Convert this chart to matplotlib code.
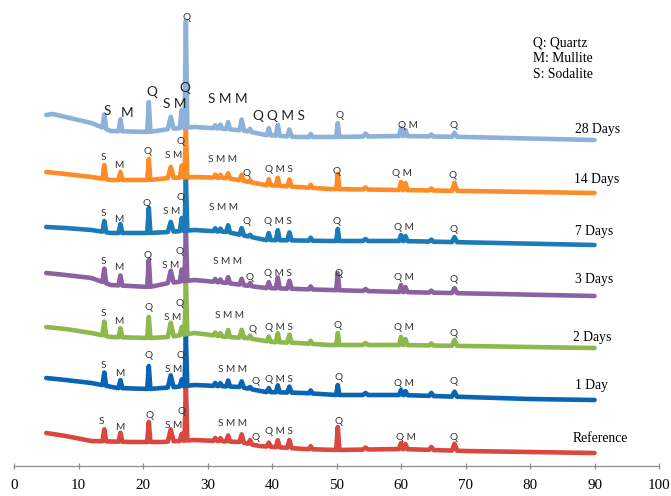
import matplotlib.pyplot as plt
import numpy as np

# XRD patterns, stacked with a vertical offset (intensity in arbitrary units)
samples = ['Reference', '1 Day', '2 Days', '3 Days', '7 Days', '14 Days', '28 Days']
colors = ['#d9473f', '#0a64b4', '#8cb84c', '#8b61a2', '#1b7bb6', '#fd8c27', '#8cb2da']

# 2-theta of the reflections (Q, M, S and small bumps)
peak_pos = [14.0, 16.5, 20.9, 24.3, 26.0, 26.65, 31.2, 32.0, 33.2, 35.3, 36.6,
            39.5, 40.9, 42.7, 46.0, 50.2, 54.5, 60.0, 60.7, 64.7, 68.3]
peak_hw = [0.3, 0.3, 0.25, 0.45, 0.3, 0.22, 0.3, 0.3, 0.3, 0.35, 0.3,
           0.3, 0.3, 0.35, 0.3, 0.25, 0.4, 0.3, 0.3, 0.35, 0.4]

# peak heights above background
heights = {
    'Reference': [12, 9, 20, 12, 7, 57, 3, 3, 6, 8, 4, 4, 7, 8, 3, 23, 2, 6, 5, 3, 7],
    '1 Day':     [13, 8, 23, 12, 7, 50, 3, 3, 6, 6, 2, 4, 7, 6, 3, 10, 2, 5, 4, 3, 5],
    '2 Days':    [14, 9, 21, 14, 8, 56, 3, 3, 7, 8, 3, 5, 9, 8, 3, 12, 2, 8, 6, 2, 6],
    '3 Days':    [14, 10, 27, 12, 12, 52, 3, 3, 6, 6, 3, 6, 11, 8, 3, 17, 2, 7, 5, 2, 5],
    '7 Days':    [11, 9, 25, 10, 13, 53, 3, 3, 7, 7, 2, 7, 10, 8, 3, 12, 2, 6, 5, 2, 5],
    '14 Days':   [14, 8, 21, 11, 12, 47, 3, 3, 5, 6, 2, 6, 8, 7, 3, 15, 2, 8, 7, 2, 8],
    '28 Days':   [14, 12, 30, 12, 18, 107, 3, 4, 7, 11, 3, 7, 11, 7, 3, 14, 3, 8, 6, 2, 4],
}

# background (2-theta, offset intensity)
bg_x = {
    'Reference': [5, 8, 12, 18, 23, 28, 35, 38, 45, 50, 60, 70, 80, 90],
    '1 Day':     [5, 8, 12, 16, 21, 25, 28, 35, 39, 45, 50, 60, 70, 80, 90],
    '2 Days':    [5, 8, 12, 15, 21, 24, 28, 33, 36, 40, 44, 49, 60, 70, 90],
    '3 Days':    [5, 8, 12, 15, 21, 24, 28, 33, 39, 49, 60, 90],
    '7 Days':    [5, 8, 12, 15, 21, 24, 28, 33, 39, 49, 60, 90],
    '14 Days':   [5, 8, 12, 15, 21, 24, 28, 33, 39, 44, 49, 60, 70, 90],
    '28 Days':   [5, 6, 12, 15, 21, 24, 28, 33, 36, 39, 44, 50, 60, 70, 90],
}
bg_y = {
    'Reference': [33, 30, 25, 24, 24, 26, 24, 20, 17, 16, 17, 15, 14, 13],
    '1 Day':     [88, 86, 83, 78, 77, 79, 81, 79, 74, 73, 71, 71, 69, 67, 66],
    '2 Days':    [139, 137, 133, 129, 128, 129, 133, 129, 128, 124, 123, 121, 121, 120, 118],
    '3 Days':    [193, 191, 188, 181, 179, 183, 186, 183, 178, 176, 174, 170],
    '7 Days':    [239, 238, 236, 233, 233, 234, 236, 234, 226, 225, 225, 221],
    '14 Days':   [294, 292, 289, 286, 286, 288, 289, 288, 281, 279, 277, 276, 275, 273],
    '28 Days':   [351, 352, 343, 335, 334, 337, 339, 337, 335, 331, 329, 329, 330, 329, 326],
}

# phase letters: (text, 2-theta, y)
marks = {
    'Reference': [('S', 13.55, 44), ('M', 16.4, 38), ('Q', 21.0, 50), ('S M', 24.8, 40),
                  ('Q', 25.95, 54), ('S M M', 33.9, 43), ('Q', 37.5, 29), ('Q M S', 41.0, 34),
                  ('Q', 50.3, 44), ('Q M', 60.7, 29), ('Q', 68.2, 29)],
    '1 Day':     [('S', 13.8, 100), ('M', 16.4, 93), ('Q', 20.9, 111), ('S M', 24.8, 96),
                  ('Q', 25.85, 110), ('S M M', 33.9, 97), ('Q', 37.5, 84), ('Q M S', 41.0, 87),
                  ('Q', 50.3, 89), ('Q M', 60.4, 83), ('Q', 68.2, 84)],
    '2 Days':    [('S', 13.9, 152), ('M', 16.2, 145), ('Q', 20.8, 158), ('S M', 24.55, 148),
                  ('Q', 25.7, 163), ('S M M', 33.4, 151), ('Q', 37.0, 137), ('Q M S', 41.0, 139),
                  ('Q', 50.2, 141), ('Q M', 60.5, 139), ('Q', 68.2, 132)],
    '3 Days':    [('S', 13.9, 204), ('M', 16.2, 198), ('Q', 20.7, 211), ('S M', 24.3, 200),
                  ('Q', 25.6, 215), ('S M M', 33.1, 204), ('Q', 36.5, 189), ('Q M S', 40.9, 193),
                  ('Q', 50.3, 193), ('Q M', 60.4, 189), ('Q', 68.2, 187)],
    '7 Days':    [('S', 13.8, 252), ('M', 16.2, 247), ('Q', 20.6, 263), ('S M', 24.4, 255),
                  ('Q', 25.85, 269), ('S M M', 32.5, 258), ('Q', 36.1, 244), ('Q M S', 40.9, 244),
                  ('Q', 50.0, 245), ('Q M', 60.5, 238), ('Q', 68.2, 237)],
    '14 Days':   [('S', 13.9, 308), ('M', 16.2, 301), ('Q', 20.75, 314), ('S M', 24.7, 310),
                  ('Q', 25.75, 324), ('S M M', 32.35, 307), ('Q', 36.0, 292), ('Q M S', 41.0, 297),
                  ('Q', 50.0, 295), ('Q M', 60.2, 292), ('Q', 68.0, 291)],
}
marks_28_big = [('S', 14.5, 355), ('M', 17.55, 353), ('Q', 21.3, 374), ('S M', 24.95, 362),
                ('Q', 26.45, 378), ('S M M', 33.1, 367), ('Q', 37.8, 350), ('Q M S', 42.2, 350)]
marks_28_small = [('Q', 26.7, 448), ('Q', 50.4, 350), ('Q M', 61.0, 340), ('Q', 68.2, 341)]

# sample names at the right end of each pattern
name_x = [86.6, 86.9, 86.6, 86.9, 87.0, 86.8, 87.0]
name_y = [27, 80, 129, 186, 234, 287, 336]

key_lines = ['Q: Quartz', 'M: Mullite', 'S: Sodalite']

serif = ['Liberation Serif', 'DejaVu Serif']
sans = ['Lato', 'DejaVu Sans']

fig = plt.figure(figsize=(6.71, 4.96), dpi=100)
ax = fig.add_axes([14 / 671, 30 / 496, 645 / 671, 466 / 496])

for i, name in enumerate(samples):
    kx = np.array(bg_x[name], float)
    ky = np.array(bg_y[name], float)
    pts = []
    for p, w, h in zip(peak_pos, peak_hw, heights[name]):
        pts.append((p - w, np.interp(p - w, kx, ky)))
        pts.append((p, np.interp(p, kx, ky) + h))
        pts.append((p + w, np.interp(p + w, kx, ky)))
    for x, y in zip(kx, ky):
        if all(abs(x - p) > w for p, w in zip(peak_pos, peak_hw)):
            pts.append((x, y))
    pts.sort()
    xs, ys = zip(*pts)
    ax.plot(xs, ys, color=colors[i], lw=3.3, solid_joinstyle='round',
            solid_capstyle='round', zorder=2 + i)
    ax.text(name_x[i], name_y[i], name, fontsize=9.8, family=serif,
            ha='left', va='center', zorder=20)

for name, lst in marks.items():
    for t, x, y in lst:
        ax.text(x, y, t, fontsize=7.2, family=sans, color='#333333',
                ha='center', va='center', zorder=20)
for t, x, y in marks_28_big:
    ax.text(x, y, t, fontsize=9.8, family=sans, color='#222222',
            ha='center', va='center', zorder=20)
for t, x, y in marks_28_small:
    ax.text(x, y, t, fontsize=7.2, family=sans, color='#333333',
            ha='center', va='center', zorder=20)

for k, line in enumerate(key_lines):
    ax.text(80.5, 423 - 16 * k, line, fontsize=9.8, family=serif,
            ha='left', va='center')

ax.set_xlim(0, 100)
ax.set_ylim(0, 466)
ax.set_xticks(np.arange(0, 101, 10))
ax.set_yticks([])
for s in ['top', 'left', 'right']:
    ax.spines[s].set_visible(False)
ax.spines['bottom'].set_color('#8c8c8c')
ax.spines['bottom'].set_linewidth(0.9)
ax.tick_params(axis='x', direction='inout', length=5, width=0.9,
               color='#8c8c8c', pad=7, labelsize=10.8)
for lb in ax.get_xticklabels():
    lb.set_family(serif)

fig.savefig('out.png', dpi=100)
